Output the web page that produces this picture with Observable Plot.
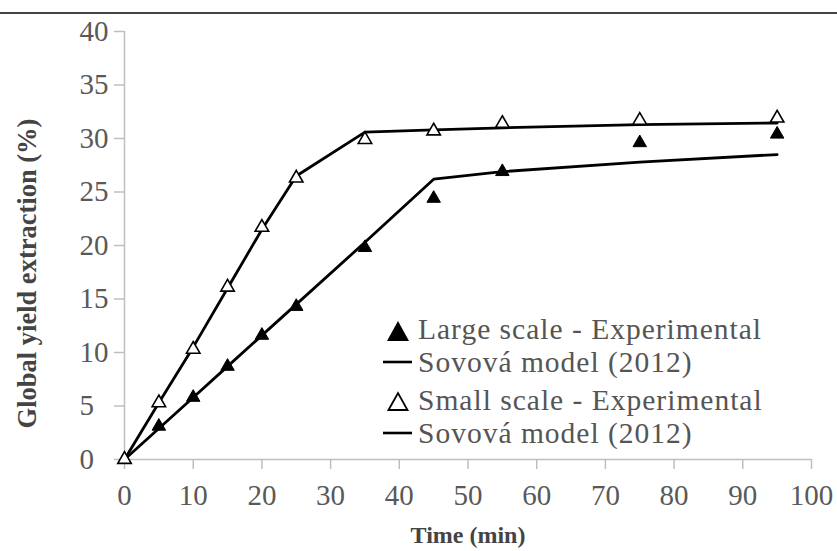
<!DOCTYPE html>
<html>
<head>
<meta charset="utf-8">
<script src="https://cdn.jsdelivr.net/npm/d3@7"></script>
<script src="https://cdn.jsdelivr.net/npm/@observablehq/plot@0.6"></script>
<style>
  html, body { margin: 0; padding: 0; background: #fff; }
  #wrap { position: relative; width: 837px; height: 551px; overflow: hidden; font-family: "Liberation Serif", "LiberationSerif", Tinos, "Times New Roman", Times, "DejaVu Serif", serif; }
  #topline { position: absolute; left: 0; top: 12px; width: 837px; border-top: 2px solid #444; }
  .leg { position: absolute; left: 380px; height: 34px; display: flex; align-items: center; font-size: 29.5px; letter-spacing: 1px; color: #555; white-space: nowrap; }
  .leg svg { width: 36px; height: 30px; flex: none; }
</style>
</head>
<body>
<div id="wrap">
  <div id="chart"></div>
  <div id="topline"></div>
  <div id="legend"></div>
</div>
<script>
const time = [0, 5, 10, 15, 20, 25, 35, 45, 55, 75, 95];
const largeExp = [0, 3.1, 5.8, 8.7, 11.6, 14.3, 19.8, 24.4, 26.9, 29.6, 30.4];
const largeModel = [0, 2.9, 5.8, 8.7, 11.6, 14.5, 20.3, 26.2, 26.9, 27.8, 28.5];
const smallExp = [0, 5.3, 10.3, 16.1, 21.7, 26.3, 29.9, 30.7, 31.4, 31.7, 31.9];
const smallModel = [0, 5.3, 10.5, 16.0, 21.5, 26.5, 30.6, 30.8, 31.0, 31.3, 31.45];
const xTicks = [0, 10, 20, 30, 40, 50, 60, 70, 80, 90, 100];
const yTicks = [0, 5, 10, 15, 20, 25, 30, 35, 40];
const legendLabels = ["Large scale - Experimental", "Sovová model (2012)", "Small scale - Experimental", "Sovová model (2012)"];

const rows = time.map((t, i) => ({t, le: largeExp[i], lm: largeModel[i], se: smallExp[i], sm: smallModel[i]}));

const axisColor = "#bfbfbf";
const font = "'Liberation Serif', 'LiberationSerif', Tinos, 'Times New Roman', Times, 'DejaVu Serif', serif";

const chart = Plot.plot({
  width: 837,
  height: 551,
  marginLeft: 124,
  marginRight: 26,
  marginTop: 31,
  marginBottom: 92,
  style: {fontFamily: font, color: "#595959", background: "white", overflow: "visible"},
  x: {domain: [0, 100]},
  y: {domain: [0, 40]},
  marks: [
    Plot.ruleX([0], {stroke: axisColor, strokeWidth: 1.5}),
    Plot.ruleY([0], {stroke: axisColor, strokeWidth: 1.5}),
    Plot.axisX({ticks: xTicks, tickSize: 10, tickPadding: 15, stroke: axisColor, strokeWidth: 1.5, fontSize: 29, fill: "#595959", label: null}),
    Plot.axisY({ticks: yTicks, tickSize: 10, tickPadding: 35, textAnchor: "start", stroke: axisColor, strokeWidth: 1.5, fontSize: 29, fill: "#595959", label: null}),
    Plot.text(["Time (min)"], {frameAnchor: "bottom", dy: 76, fontSize: 24, fontWeight: "bold", fill: "#444", lineAnchor: "middle"}),
    Plot.text(["Global yield extraction (%)"], {frameAnchor: "left", dx: -97, dy: 28, rotate: -90, fontSize: 26.5, fontWeight: "bold", fill: "#444", lineAnchor: "middle", textAnchor: "middle"}),
    Plot.line(rows, {x: "t", y: "lm", stroke: "black", strokeWidth: 2.8}),
    Plot.line(rows, {x: "t", y: "sm", stroke: "black", strokeWidth: 2.8}),
    Plot.dot(rows, {x: "t", y: "le", symbol: "triangle", r: 5, fill: "black", stroke: "black", strokeWidth: 1}),
    Plot.dot(rows, {x: "t", y: "se", symbol: "triangle", r: 5, fill: "white", stroke: "black", strokeWidth: 1.6})
  ]
});
document.getElementById("chart").appendChild(chart);

const rowCenters = [329, 362, 400, 433];
const symbols = [
  '<svg viewBox="0 0 36 30"><path d="M7,27 L18,7 L29,27 Z" fill="black"/></svg>',
  '<svg viewBox="0 0 36 30"><line x1="3" y1="15" x2="32" y2="15" stroke="black" stroke-width="2.6"/></svg>',
  '<svg viewBox="0 0 36 30"><path d="M8.5,25 L18,8 L27.5,25 Z" fill="white" stroke="black" stroke-width="1.8"/></svg>',
  '<svg viewBox="0 0 36 30"><line x1="3" y1="15" x2="32" y2="15" stroke="black" stroke-width="2.6"/></svg>'
];
const legend = document.getElementById("legend");
legendLabels.forEach((lab, i) => {
  const d = document.createElement("div");
  d.className = "leg";
  d.style.top = (rowCenters[i] - 17) + "px";
  d.innerHTML = symbols[i] + '<span style="margin-left:2px">' + lab + '</span>';
  legend.appendChild(d);
});
</script>
</body>
</html>
